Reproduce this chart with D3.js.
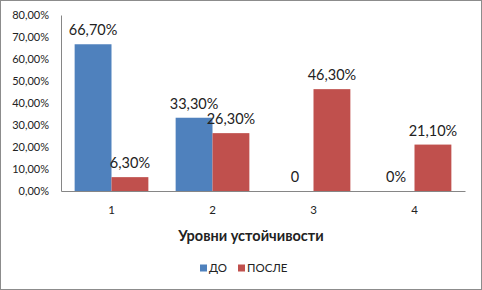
<!DOCTYPE html>
<html>
<head>
  <meta charset="utf-8">
  <script src="https://cdn.jsdelivr.net/npm/d3@7/dist/d3.min.js"></script>
  <style>
    body { margin: 0; }
    svg { display: block; }
    text { font-family: Lato, 'Open Sans', sans-serif; fill: #222; }
  </style>
</head>
<body>
  <svg width="482" height="290" id="mainsvg"></svg>
  <script>
    // data
    const categories = ['1', '2', '3', '4'];
    const seriesNames = ['ДО', 'ПОСЛЕ'];
    const before = [0.667, 0.333, 0, 0];
    const after = [0.063, 0.263, 0.463, 0.211];
    const beforeLabels = ['66,70%', '33,30%', '0', '0%'];
    const afterLabels = ['6,30%', '26,30%', '46,30%', '21,10%'];
    const yTicks = [0, 0.1, 0.2, 0.3, 0.4, 0.5, 0.6, 0.7, 0.8];
    const colors = ['#4F81BD', '#C0504D'];

    const svg = d3.select('#mainsvg');
    const width = +svg.attr('width');
    const height = +svg.attr('height');
    const margin = { top: 15, right: 17, bottom: 99, left: 61 };
    const innerWidth = width - margin.left - margin.right;
    const innerHeight = height - margin.top - margin.bottom;

    // chart border
    svg.append('rect')
      .attr('x', 0.5).attr('y', 0.5)
      .attr('width', width - 1).attr('height', height - 1)
      .attr('fill', 'white').attr('stroke', '#8c8c8c');

    const g = svg.append('g')
      .attr('transform', `translate(${margin.left}, ${margin.top})`);

    const xScale = d3.scaleBand()
      .domain(categories)
      .range([0, innerWidth])
      .paddingInner(0.27)
      .paddingOuter(0.135);

    const xSub = d3.scaleBand()
      .domain(seriesNames)
      .range([0, xScale.bandwidth()]);

    const yScale = d3.scaleLinear()
      .domain([0, 0.8])
      .range([innerHeight, 0]);

    const fmt = d => d3.format('.2f')(d * 100).replace('.', ',') + '%';

    const yAxis = d3.axisLeft(yScale)
      .tickValues(yTicks)
      .tickFormat(fmt)
      .tickSize(0)
      .tickPadding(12);
    const yAxisGroup = g.append('g').call(yAxis);
    yAxisGroup.select('.domain').attr('stroke', '#868686');
    yAxisGroup.selectAll('text')
      .style('font-size', '11px')
      .attr('fill', '#222');

    const xAxis = d3.axisBottom(d3.scaleBand().domain(categories).range([0, innerWidth]))
      .tickSize(0)
      .tickPadding(15);
    const xAxisGroup = g.append('g')
      .attr('transform', `translate(0, ${innerHeight})`)
      .call(xAxis);
    xAxisGroup.select('.domain').attr('stroke', '#868686');
    xAxisGroup.selectAll('text')
      .style('font-size', '11.5px')
      .attr('fill', '#222');

    const rows = categories.map((c, i) => ({
      cat: c,
      values: [
        { key: seriesNames[0], value: before[i], label: beforeLabels[i] },
        { key: seriesNames[1], value: after[i], label: afterLabels[i] }
      ]
    }));

    const groups = g.selectAll('.grp')
      .data(rows)
      .enter()
      .append('g')
      .attr('class', 'grp')
      .attr('transform', d => `translate(${xScale(d.cat)}, 0)`);

    groups.selectAll('rect')
      .data(d => d.values)
      .enter()
      .append('rect')
      .attr('x', d => xSub(d.key))
      .attr('y', d => yScale(d.value))
      .attr('width', xSub.bandwidth())
      .attr('height', d => innerHeight - yScale(d.value))
      .attr('fill', (d, i) => colors[i]);

    groups.selectAll('.lbl')
      .data(d => d.values)
      .enter()
      .append('text')
      .attr('class', 'lbl')
      .attr('x', d => xSub(d.key) + xSub.bandwidth() / 2)
      .attr('y', d => yScale(d.value) - 9)
      .attr('text-anchor', 'middle')
      .style('font-size', '14.5px')
      .text(d => d.label);

    // axis title
    svg.append('text')
      .attr('x', 251)
      .attr('y', 241)
      .attr('text-anchor', 'middle')
      .style('font-size', '14.5px')
      .style('font-weight', 'bold')
      .text('Уровни устойчивости');

    // legend
    const legend = svg.append('g').attr('transform', 'translate(200, 268)');
    const items = legend.selectAll('g')
      .data(seriesNames)
      .enter()
      .append('g')
      .attr('transform', (d, i) => `translate(${i * 38}, 0)`);
    items.append('rect')
      .attr('x', 0).attr('y', -3.5)
      .attr('width', 7).attr('height', 7)
      .attr('fill', (d, i) => colors[i]);
    items.append('text')
      .attr('x', 9)
      .attr('y', 4)
      .style('font-size', '11.5px')
      .text(d => d);
  </script>
</body>
</html>
